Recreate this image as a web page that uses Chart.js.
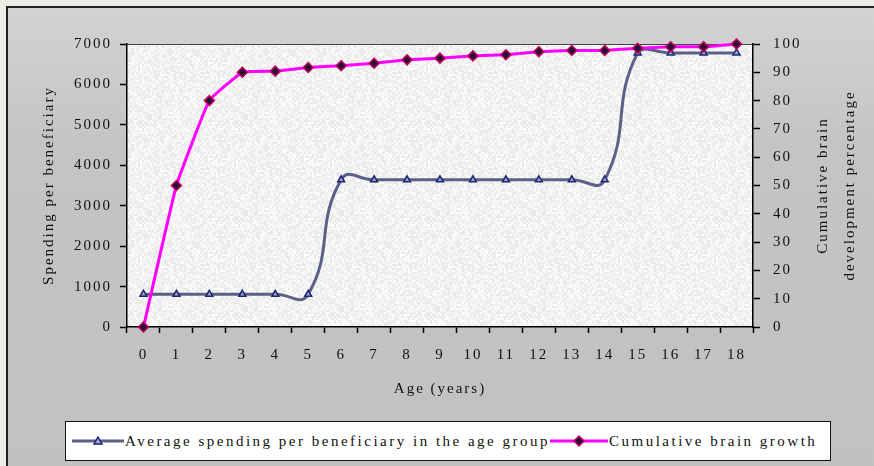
<!DOCTYPE html>
<html lang="en">
<head>
<meta charset="UTF-8">
<title>Spending per beneficiary and cumulative brain growth</title>
<script src="https://cdn.jsdelivr.net/npm/chart.js"></script>
<style>
    html, body { margin: 0; padding: 0; }
    body {
        width: 874px; height: 466px; overflow: hidden; position: relative;
        background: #ecebe4;
        font-family: "Liberation Serif", "Times New Roman", serif;
    }
    .frame {
        position: absolute; left: 6px; top: 6px; right: 0; bottom: 0;
        border-left: 2px solid #222; border-top: 2px solid #222;
        background: linear-gradient(#d3d3d3, #c4c4c4 30%, #c1c1c1);
    }
    .chart-box { position: absolute; left: 8px; top: 8px; width: 866px; height: 458px; }
    .legend {
        position: absolute; left: 65px; top: 421px; width: 766px; height: 40px;
        box-sizing: border-box; border: 1.5px solid #111; background: #fff;
        display: flex; align-items: center; padding-left: 6px;
        font-size: 15px; letter-spacing: 2.5px; color: #111; white-space: nowrap;
    }
    .legend-item { display: flex; align-items: center; }
    .legend-item svg { margin-right: 1px; }
</style>
</head>
<body>
<div class="frame"></div>
<div class="chart-box"><canvas id="chart"></canvas></div>
<div class="legend" id="legend"></div>

<script>
    // values
    const ages = ['0', '1', '2', '3', '4', '5', '6', '7', '8', '9', '10', '11', '12', '13', '14', '15', '16', '17', '18'];
    const spending = [810, 810, 810, 810, 810, 810, 3640, 3640, 3640, 3640, 3640, 3640, 3640, 3640, 3640, 6780, 6780, 6780, 6780];
    const brainGrowth = [0, 50, 80, 90, 90.4, 91.7, 92.3, 93.2, 94.4, 95, 95.8, 96.2, 97.3, 97.7, 97.7, 98.5, 99, 99, 100];

    const spendingAxis = { min: 0, max: 7000, step: 1000 };
    const percentAxis = { min: 0, max: 100, step: 10 };

    const seriesNames = ['Average spending per beneficiary in the age group', 'Cumulative brain growth'];
    const xTitle = 'Age (years)';
    const leftTitle = 'Spending per beneficiary';
    const rightTitle = ['Cumulative brain', 'development percentage'];

    // speckled grey texture like the old office plot area
    const plotTexture = (function () {
        const c = document.createElement('canvas');
        c.width = c.height = 96;
        const g = c.getContext('2d');
        let seed = 12345;
        const next = () => (seed = (seed * 1103515245 + 12345) & 0x7fffffff) / 0x7fffffff;
        for (let y = 0; y < 96; y += 2) {
            for (let x = 0; x < 96; x += 2) {
                const v = Math.round(231 + next() * 22);
                g.fillStyle = `rgb(${v},${v},${v})`;
                g.fillRect(x, y, 2, 2);
            }
        }
        return c;
    })();

    const excelLook = {
        id: 'excelLook',
        beforeLayout(chart) { chart.ctx.letterSpacing = '2px'; },
        beforeDraw(chart) {
            const { ctx, chartArea: a } = chart;
            ctx.letterSpacing = '2px';
            ctx.save();
            ctx.fillStyle = ctx.createPattern(plotTexture, 'repeat');
            ctx.fillRect(a.left, a.top, a.right - a.left, a.bottom - a.top);
            ctx.strokeStyle = '#444';
            ctx.lineWidth = 1;
            ctx.beginPath();
            ctx.moveTo(a.left, a.top + 0.5);
            ctx.lineTo(a.right, a.top + 0.5);
            ctx.stroke();
            ctx.restore();
        },
        afterDraw(chart) {
            // right axis title reads bottom-to-top, two lines
            const { ctx, chartArea: a } = chart;
            const s = chart.scales.y2;
            ctx.save();
            ctx.font = '15px "Liberation Serif"';
            ctx.fillStyle = '#111';
            ctx.textAlign = 'center';
            ctx.textBaseline = 'middle';
            const cy = (a.top + a.bottom) / 2;
            rightTitle.forEach((line, i) => {
                ctx.save();
                ctx.translate(s.left + 70 + i * 27, cy);
                ctx.rotate(-Math.PI / 2);
                ctx.fillText(line, 0, 0);
                ctx.restore();
            });
            ctx.restore();
        }
    };

    Chart.defaults.font.family = '"Liberation Serif", "Times New Roman", serif';
    Chart.defaults.font.size = 15;
    Chart.defaults.color = '#111';

    const datasets = [
        {
            label: seriesNames[0],
            data: spending,
            yAxisID: 'y',
            borderColor: '#5c6088',
            borderWidth: 3,
            tension: 0.5,
            pointStyle: 'triangle',
            pointRadius: 4,
            pointBackgroundColor: '#9ea3cf',
            pointBorderColor: '#1c2670',
            pointBorderWidth: 1.5,
            clip: false,
            order: 1
        },
        {
            label: seriesNames[1],
            data: brainGrowth,
            yAxisID: 'y2',
            borderColor: '#ff00ff',
            borderWidth: 3,
            tension: 0.1,
            pointStyle: 'rectRot',
            pointRadius: 5,
            pointBackgroundColor: '#2a0d3a',
            pointBorderColor: '#c0005a',
            pointBorderWidth: 1.5,
            clip: false,
            order: 0
        }
    ];

    const plainNumber = v => String(v);

    new Chart(document.getElementById('chart'), {
        type: 'line',
        data: { labels: ages, datasets: datasets },
        plugins: [excelLook],
        options: {
            responsive: true,
            maintainAspectRatio: false,
            animation: false,
            layout: { padding: { top: 36, bottom: 59, left: 0, right: 0 } },
            plugins: { legend: { display: false }, tooltip: { enabled: false } },
            scales: {
                x: {
                    offset: true,
                    grid: { offset: true, drawOnChartArea: false, tickLength: 6, tickColor: '#000', tickWidth: 1.5 },
                    border: { color: '#000', width: 1.5 },
                    ticks: { padding: 13, autoSkip: false, maxRotation: 0 },
                    title: { display: true, text: xTitle, padding: { top: 0, bottom: 9 } },
                    afterFit(s) { s.height = 80; }
                },
                y: {
                    position: 'left',
                    min: spendingAxis.min, max: spendingAxis.max,
                    ticks: { stepSize: spendingAxis.step, padding: 8, callback: plainNumber },
                    grid: { drawOnChartArea: false, tickLength: 7, tickColor: '#000', tickWidth: 1.5 },
                    border: { color: '#000', width: 1.5 },
                    title: { display: true, text: leftTitle, padding: { top: 32, bottom: 0 } },
                    afterFit(s) { s.width = 119; }
                },
                y2: {
                    position: 'right',
                    min: percentAxis.min, max: percentAxis.max,
                    ticks: { stepSize: percentAxis.step, padding: 13, callback: plainNumber },
                    grid: { drawOnChartArea: false, tickLength: 7, tickColor: '#000', tickWidth: 1.5 },
                    border: { color: '#000', width: 1.5 },
                    afterFit(s) { s.width = 121; }
                }
            }
        }
    });

    // legend: line sample with marker, then the series name
    function markerSvg(ds, width) {
        const cx = width / 2, cy = 8;
        let mark;
        if (ds.pointStyle === 'triangle') {
            mark = `<polygon points="${cx},${cy - 4} ${cx + 4},${cy + 3} ${cx - 4},${cy + 3}" fill="${ds.pointBackgroundColor}" stroke="${ds.pointBorderColor}" stroke-width="1.5"/>`;
        } else {
            mark = `<polygon points="${cx},${cy - 5} ${cx + 5},${cy} ${cx},${cy + 5} ${cx - 5},${cy}" fill="${ds.pointBackgroundColor}" stroke="${ds.pointBorderColor}" stroke-width="1.5"/>`;
        }
        return `<svg width="${width}" height="16"><line x1="0" y1="${cy}" x2="${width}" y2="${cy}" stroke="${ds.borderColor}" stroke-width="3"/>${mark}</svg>`;
    }

    const legend = document.getElementById('legend');
    const sampleWidths = [52, 58];
    datasets.forEach((ds, i) => {
        const item = document.createElement('span');
        item.className = 'legend-item';
        item.innerHTML = markerSvg(ds, sampleWidths[i]) + `<span>${ds.label}</span>`;
        legend.appendChild(item);
    });
</script>
</body>
</html>
